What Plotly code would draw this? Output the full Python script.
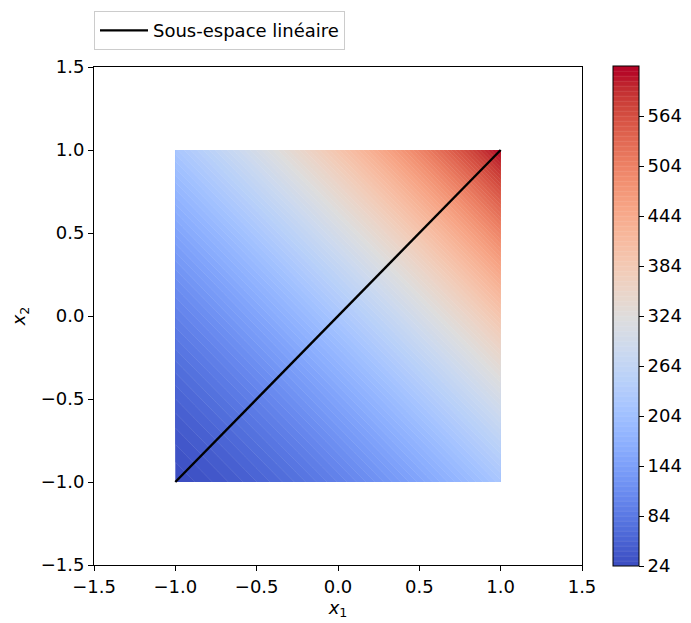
import numpy as np
import plotly.graph_objects as go

# Grid over the square [-1, 1] x [-1, 1]
x1_values = np.linspace(-1.0, 1.0, 241)
x2_values = np.linspace(-1.0, 1.0, 241)

# Response profile along s = x1 + x2 : f = c0 + c1*s + c2*s^2
profile_coeffs = [220.0, 149.0, 25.5]

# Linear subspace direction drawn over the map
subspace_x1 = [-1.0, 1.0]
subspace_x2 = [-1.0, 1.0]

# Contour levels and colorbar ticks
level_start, level_end, level_step = 24, 618, 6
cbar_ticks = list(range(24, 565, 60))
axis_ticks = [-1.5, -1.0, -0.5, 0.0, 0.5, 1.0, 1.5]

X1, X2 = np.meshgrid(x1_values, x2_values)
S = X1 + X2
Z = profile_coeffs[0] + profile_coeffs[1] * S + profile_coeffs[2] * S ** 2

coolwarm_rgb = [
    (59, 76, 192), (68, 90, 204), (77, 104, 215), (87, 117, 225),
    (98, 130, 234), (108, 142, 241), (119, 154, 247), (130, 165, 251),
    (141, 176, 254), (152, 185, 255), (163, 194, 255), (174, 201, 253),
    (184, 208, 249), (194, 213, 244), (204, 217, 238), (213, 219, 230),
    (221, 221, 221), (229, 216, 209), (236, 211, 197), (241, 204, 185),
    (245, 196, 173), (247, 187, 160), (247, 177, 148), (247, 166, 135),
    (244, 154, 123), (241, 141, 111), (236, 127, 99), (229, 112, 88),
    (222, 96, 77), (213, 80, 66), (203, 62, 56), (192, 40, 47),
    (180, 4, 38),
]
n = len(coolwarm_rgb) - 1
coolwarm = [[i / n, "rgb(%d,%d,%d)" % c] for i, c in enumerate(coolwarm_rgb)]

font = dict(family="DejaVu Sans", size=18, color="black")

fig = go.Figure()
fig.add_trace(go.Contour(
    x=x1_values, y=x2_values, z=Z,
    colorscale=coolwarm,
    zmin=level_start, zmax=level_end + level_step,
    contours=dict(start=level_start, end=level_end, size=level_step,
                  coloring="fill"),
    line=dict(color="rgba(255,255,255,0.22)", width=0.5),
    showlegend=False,
    colorbar=dict(
        x=1.0634, xanchor="left", xref="paper",
        y=0.5, yanchor="middle", len=1.004, lenmode="fraction",
        ypad=0, xpad=0,
        thickness=26, outlinewidth=1, outlinecolor="black",
        tickmode="array", tickvals=cbar_ticks,
        ticks="outside", ticklen=5, tickcolor="black",
        tickfont=font,
    ),
))
fig.add_trace(go.Scatter(
    x=subspace_x1, y=subspace_x2, mode="lines",
    line=dict(color="black", width=2.4),
    name="Sous-espace linéaire",
))

axis_common = dict(
    range=[-1.5, 1.5], tickvals=axis_ticks, tickformat=".1f",
    showgrid=False, zeroline=False, showline=True, linecolor="black",
    linewidth=1, mirror=True, ticks="outside", ticklen=5,
    tickcolor="black", tickfont=font,
)

fig.update_layout(
    width=691, height=623,
    margin=dict(l=94, r=109, t=67, b=58, autoexpand=False),
    paper_bgcolor="white", plot_bgcolor="white",
    font=font,
    xaxis=dict(axis_common, title=dict(text="<i>x</i><sub>1</sub>",
                                       font=dict(size=18), standoff=4)),
    yaxis=dict(axis_common, title=dict(text="<i>x</i><sub>2</sub>",
                                       font=dict(size=18), standoff=10)),
    legend=dict(
        x=0.0, xanchor="left", y=1.112, yanchor="top",
        bordercolor="#cccccc", borderwidth=1, bgcolor="white",
        itemwidth=48,
        font=dict(family="DejaVu Sans", size=18),
    ),
    showlegend=True,
)

fig.write_html("out.html")
